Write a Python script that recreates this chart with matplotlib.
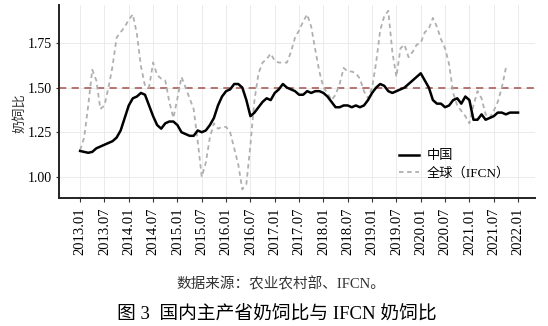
import matplotlib
matplotlib.use("Agg")
import matplotlib.pyplot as plt
import numpy as np

plt.rcParams['font.family'] = ['Liberation Serif', 'Noto Sans CJK SC']

# monthly values, index 0 = 2013.01
china = [1.145, 1.14, 1.135, 1.14, 1.16, 1.17, 1.18, 1.19, 1.20, 1.22,
         1.26, 1.33, 1.40, 1.44, 1.45, 1.47, 1.46, 1.40, 1.34, 1.29,
         1.27, 1.30, 1.31, 1.31, 1.29, 1.25, 1.24, 1.23, 1.23, 1.26,
         1.25, 1.26, 1.29, 1.33, 1.40, 1.45, 1.48, 1.49, 1.52, 1.52,
         1.50, 1.43, 1.34, 1.36, 1.39, 1.42, 1.44, 1.43, 1.47, 1.49,
         1.52, 1.50, 1.49, 1.48, 1.46, 1.46, 1.48, 1.47, 1.48, 1.48,
         1.47, 1.45, 1.42, 1.39, 1.39, 1.40, 1.40, 1.39, 1.40, 1.39,
         1.40, 1.43, 1.47, 1.50, 1.52, 1.51, 1.48, 1.47, 1.48, 1.49,
         1.50, 1.52, 1.54, 1.56, 1.58, 1.54, 1.50, 1.43, 1.41, 1.41,
         1.39, 1.40, 1.43, 1.44, 1.41, 1.45, 1.43, 1.32, 1.32, 1.35,
         1.32, 1.33, 1.34, 1.36, 1.36, 1.35, 1.36, 1.36, 1.36]

ifcn = [1.15, 1.22, 1.40, 1.60, 1.54, 1.38, 1.40, 1.50, 1.62, 1.78,
        1.81, 1.84, 1.88, 1.91, 1.80, 1.62, 1.51, 1.50, 1.64, 1.57,
        1.55, 1.54, 1.42, 1.33, 1.44, 1.56, 1.50, 1.44, 1.38, 1.20,
        1.00, 1.08, 1.22, 1.30, 1.27, 1.28, 1.28, 1.25, 1.16, 1.07,
        0.93, 0.96, 1.18, 1.43, 1.58, 1.64, 1.66, 1.69, 1.65, 1.64,
        1.64, 1.64, 1.70, 1.78, 1.82, 1.87, 1.91, 1.84, 1.71, 1.59,
        1.50, 1.47, 1.43, 1.46, 1.52, 1.61, 1.59, 1.59, 1.58, 1.55,
        1.48, 1.44, 1.50, 1.64, 1.82, 1.90, 1.93, 1.70, 1.56, 1.72,
        1.74, 1.67, 1.70, 1.74, 1.75, 1.81, 1.83, 1.89, 1.84, 1.77,
        1.72, 1.63, 1.47, 1.40, 1.37, 1.34, 1.30, 1.40, 1.48, 1.44,
        1.35, 1.33, 1.37, 1.42, 1.50, 1.61]

tick_labels = ['2013.01', '2013.07', '2014.01', '2014.07', '2015.01', '2015.07',
               '2016.01', '2016.07', '2017.01', '2017.07', '2018.01', '2018.07',
               '2019.01', '2019.07', '2020.01', '2020.07', '2021.01', '2021.07',
               '2022.01']
y_ticks = [1.00, 1.25, 1.50, 1.75]
ref_level = 1.50

fig = plt.figure(figsize=(5.48, 3.26), dpi=100)
ax = fig.add_axes([0.1077, 0.393, 0.868, 0.592])

ax.grid(True, color='#ebebeb', lw=0.7)
ax.set_axisbelow(True)

ax.axhline(ref_level, color='#b06a66', lw=1.3, ls=(0, (4, 3)), zorder=2)
ax.plot(np.arange(len(ifcn)), ifcn, color='#b0b0b0', lw=1.3, ls=(0, (2.5, 2)),
        label='全球（IFCN）', zorder=3)
ax.plot(np.arange(len(china)), china, color='black', lw=1.8,
        label='中国', zorder=4)

ax.set_xlim(-5.2, 112.1)
ax.set_ylim(0.8825, 1.963)
ax.set_xticks(np.arange(len(tick_labels)) * 6)
ax.set_xticklabels(tick_labels, rotation=90, fontsize=10.5)
ax.set_yticks(y_ticks)
ax.set_yticklabels(['%.2f' % v for v in y_ticks], fontsize=10)
ax.tick_params(axis='x', length=3, width=0.8, color='#333333', pad=4)
ax.tick_params(axis='y', length=2, width=0.8, color='#333333', pad=3)

for s in ['top', 'right']:
    ax.spines[s].set_visible(False)
for s in ['left', 'bottom']:
    ax.spines[s].set_color('#222222')
    ax.spines[s].set_linewidth(1.4)

ax.set_ylabel('奶饲比', fontsize=9.5, color='#333333')
ax.yaxis.set_label_coords(-0.068, 0.44)

handles, labels = ax.get_legend_handles_labels()
ax.legend(handles[::-1], labels[::-1], loc='upper left',
          bbox_to_anchor=(0.69, 0.31), frameon=False, fontsize=9.5,
          handlelength=1.5, handletextpad=0.6, labelspacing=0.35)

fig.text(0.513, 0.128, '数据来源：农业农村部、IFCN。', ha='center', va='center',
         fontsize=10.5, color='#333333')
fig.text(0.505, 0.037, '图 3  国内主产省奶饲比与 IFCN 奶饲比', ha='center',
         va='center', fontsize=13.5, color='black')

fig.savefig('out.png', dpi=100)
